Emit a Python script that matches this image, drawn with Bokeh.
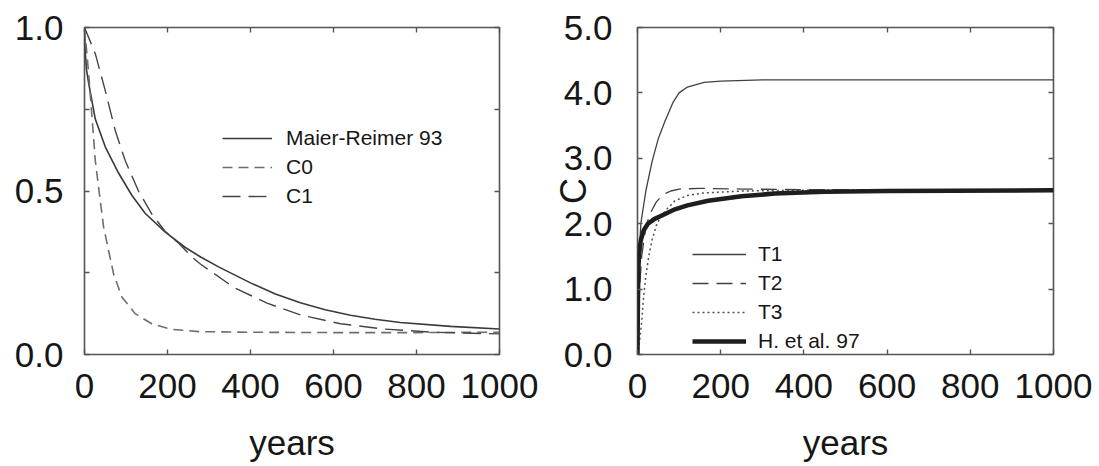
import numpy as np
from bokeh.plotting import figure
from bokeh.models import (Range1d, LinearAxis, FixedTicker, Legend, LegendItem,
                          PrintfTickFormatter)
from bokeh.layouts import row
from bokeh.embed import file_html
from bokeh.resources import INLINE

FONT = "Liberation Sans"
TEXT = "#161616"

# ---------------- left panel data ----------------
mr_years = [0, 2, 5, 10, 26, 50, 82, 114, 146, 194, 242, 280, 323, 400, 460, 520, 580, 641, 700, 761, 882, 1000]
mr_vals = [1.0, 0.92, 0.87, 0.83, 0.72, 0.635, 0.555, 0.487, 0.432, 0.375, 0.328, 0.298, 0.268, 0.219, 0.185,
           0.158, 0.137, 0.120, 0.108, 0.098, 0.086, 0.078]

c0_years = [0, 10, 18, 26, 38, 46, 58, 70, 90, 122, 162, 210, 275, 400, 600, 800, 1000]
c0_vals = [1.0, 0.86, 0.727, 0.593, 0.47, 0.39, 0.318, 0.247, 0.176, 0.125, 0.094, 0.077, 0.070, 0.068,
           0.067, 0.067, 0.068]

c1_years = [0, 26, 50, 74, 98, 130, 162, 194, 227, 259, 280, 307, 360, 440, 520, 617, 721, 842, 1000]
c1_vals = [1.0, 0.92, 0.807, 0.685, 0.593, 0.50, 0.43, 0.377, 0.340, 0.298, 0.276, 0.252, 0.205, 0.157,
           0.121, 0.094, 0.078, 0.068, 0.063]

left_labels = ["Maier-Reimer 93", "C0", "C1"]
left_yticks = [0.0, 0.5, 1.0]
left_yminor = [0.25, 0.75]
x_ticks = [0, 200, 400, 600, 800, 1000]

# ---------------- right panel data ----------------
t1_years = [0, 3, 8, 20, 35, 50, 65, 85, 100, 120, 160, 200, 300, 1000]
t1_vals = [0.0, 1.4, 2.0, 2.5, 2.95, 3.3, 3.55, 3.85, 4.0, 4.09, 4.16, 4.18, 4.2, 4.2]

t2_years = [0, 5, 10, 20, 30, 45, 60, 80, 100, 150, 250, 400, 1000]
t2_vals = [0.0, 1.0, 1.5, 1.95, 2.15, 2.33, 2.44, 2.5, 2.53, 2.54, 2.53, 2.52, 2.51]

t3_years = [0, 5, 10, 15, 20, 27, 35, 45, 55, 70, 90, 120, 160, 250, 400, 1000]
t3_vals = [0.0, 0.2, 0.5, 0.9, 1.2, 1.5, 1.75, 1.97, 2.1, 2.22, 2.35, 2.43, 2.47, 2.5, 2.51, 2.51]

h97_years = [0, 1, 2, 4, 8, 15, 25, 40, 60, 90, 120, 170, 250, 330, 450, 600, 1000]
h97_vals = [0.0, 0.8, 1.3, 1.55, 1.75, 1.9, 2.0, 2.07, 2.13, 2.22, 2.28, 2.35, 2.42, 2.46, 2.49, 2.5, 2.51]

right_labels = ["T1", "T2", "T3", "H. et al. 97"]
right_yticks = [0, 1, 2, 3, 4, 5]
right_ylabel = "C"
x_label = "years"


def frame_axes(p, xt, yt, yminor=None, yfmt="%.1f"):
    p.grid.visible = False
    p.outline_line_color = "#555555"
    p.outline_line_width = 1.6
    p.background_fill_color = "white"
    p.border_fill_color = "white"
    yticker = FixedTicker(ticks=yt, minor_ticks=yminor or [])
    xticker = FixedTicker(ticks=xt)
    for ax in p.xaxis:
        ax.ticker = xticker
        ax.major_label_standoff = 19
        ax.axis_label_standoff = 22
    for ax in p.yaxis:
        ax.ticker = yticker
        ax.formatter = PrintfTickFormatter(format=yfmt)
        ax.major_label_standoff = 21
    for ax in list(p.xaxis) + list(p.yaxis):
        ax.axis_line_color = None
        ax.major_tick_in = 5
        ax.major_tick_out = 0
        ax.minor_tick_in = 5
        ax.minor_tick_out = 0
        ax.major_tick_line_color = "#555555"
        ax.minor_tick_line_color = "#555555"
        ax.major_tick_line_width = 1.4
        ax.minor_tick_line_width = 1.4
        ax.major_label_text_font = FONT
        ax.major_label_text_font_size = "35px"
        ax.major_label_text_color = TEXT
        ax.axis_label_text_font = FONT
        ax.axis_label_text_font_size = "35px"
        ax.axis_label_text_font_style = "normal"
        ax.axis_label_text_color = TEXT
    for side, tk in (("above", xticker), ("right", yticker)):
        ax = LinearAxis(ticker=tk, axis_line_color=None, major_tick_in=5, major_tick_out=0,
                        minor_tick_in=5, minor_tick_out=0, major_label_text_font_size="1px",
                        major_label_text_color=None,
                        major_label_standoff=0, major_tick_line_color="#555555",
                        minor_tick_line_color="#555555", major_tick_line_width=1.4,
                        minor_tick_line_width=1.4)
        p.add_layout(ax, side)


# ---------------- left figure ----------------
p1 = figure(width=539, height=466, x_range=Range1d(0, 1000), y_range=Range1d(0, 1.0),
            output_backend="svg", toolbar_location=None, x_axis_label=x_label,
            min_border_left=84, min_border_right=40, min_border_top=27, min_border_bottom=112)
frame_axes(p1, x_ticks, left_yticks, left_yminor)

r_mr = p1.line(mr_years, mr_vals, line_color="#3a3a3a", line_width=1.6)
r_c0 = p1.line(c0_years, c0_vals, line_color="#6e6e6e", line_width=1.6, line_dash="10 6")
r_c1 = p1.line(c1_years, c1_vals, line_color="#454545", line_width=1.4, line_dash="18 8")

leg1 = Legend(items=[LegendItem(label=l, renderers=[r]) for l, r in zip(left_labels, [r_mr, r_c0, r_c1])],
              location=(138, 146), glyph_width=50, glyph_height=20, label_height=20,
              label_standoff=14, spacing=5, padding=0, margin=0,
              border_line_alpha=0, background_fill_alpha=0,
              label_text_font=FONT, label_text_font_size="21px", label_text_color=TEXT)
p1.add_layout(leg1)

# ---------------- right figure ----------------
p2 = figure(width=560, height=466, x_range=Range1d(0, 1000), y_range=Range1d(0, 5.0),
            output_backend="svg", toolbar_location=None, x_axis_label=x_label,
            y_axis_label=right_ylabel,
            min_border_left=98, min_border_right=46, min_border_top=25, min_border_bottom=111)
frame_axes(p2, x_ticks, right_yticks)
for ax in p2.yaxis:
    ax.major_label_standoff = 25
    ax.axis_label_standoff = -33
    ax.axis_label_text_font_size = "36px"

r_t1 = p2.line(t1_years, t1_vals, line_color="#404040", line_width=1.3)
r_t2 = p2.line(t2_years, t2_vals, line_color="#404040", line_width=1.3, line_dash="16 8")
r_t3 = p2.line(t3_years, t3_vals, line_color="#505050", line_width=1.5, line_dash="2 3")
r_h = p2.line(h97_years, h97_vals, line_color="#1e1e1e", line_width=4.5)

leg2 = Legend(items=[LegendItem(label=l, renderers=[r]) for l, r in zip(right_labels, [r_t1, r_t2, r_t3, r_h])],
              location=(55, 1), glyph_width=54, glyph_height=20, label_height=20,
              label_standoff=12, spacing=5, padding=0, margin=0,
              border_line_alpha=0, background_fill_alpha=0,
              label_text_font=FONT, label_text_font_size="21px", label_text_color=TEXT)
p2.add_layout(leg2)

layout = row(p1, p2)
open("out.html", "w").write(file_html(layout, INLINE))
